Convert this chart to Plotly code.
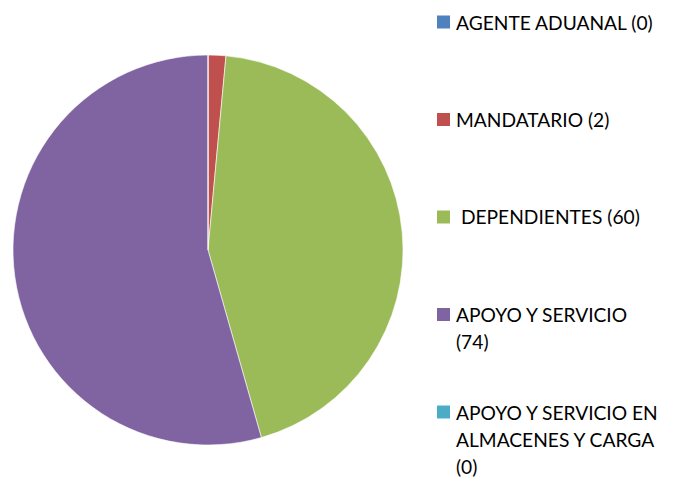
import plotly.graph_objects as go

labels = ["AGENTE ADUANAL", "MANDATARIO", "DEPENDIENTES", "APOYO Y SERVICIO", "APOYO Y SERVICIO EN ALMACENES Y CARGA"]
values = [0, 2, 60, 74, 0]
legend_lines = [
    ["AGENTE ADUANAL (0)"],
    ["MANDATARIO (2)"],
    [" DEPENDIENTES (60)"],
    ["APOYO Y SERVICIO", "(74)"],
    ["APOYO Y SERVICIO EN", "ALMACENES Y CARGA", "(0)"],
]
colors = ["#4F81BD", "#C0504D", "#9BBB59", "#8064A2", "#4BACC6"]

W, H = 674, 481
fig = go.Figure(go.Pie(
    labels=labels, values=values, sort=False, direction="clockwise", rotation=0,
    marker=dict(colors=colors, line=dict(color="white", width=0.6)),
    textinfo="none", hoverinfo="label+value", showlegend=False,
    domain=dict(x=[13 / W, 403 / W], y=[36 / H, 426 / H]),
))

font = dict(family="Lato, Open Sans, sans-serif", size=19.2, color="#000000")
annotations, shapes = [], []
first_y, item_step, line_step = 22, 97.5, 27
for i, lines in enumerate(legend_lines):
    y0 = first_y + i * item_step
    shapes.append(dict(type="rect", xref="paper", yref="paper",
                       x0=437 / W, x1=450 / W, y0=1 - (y0 + 6.5) / H, y1=1 - (y0 - 6.5) / H,
                       fillcolor=colors[i], line=dict(width=0)))
    for j, t in enumerate(lines):
        annotations.append(dict(text=t, xref="paper", yref="paper", x=454 / W, y=1 - (y0 + j * line_step) / H,
                                xanchor="left", yanchor="middle", showarrow=False, font=font))

fig.update_layout(width=W, height=H, margin=dict(l=0, r=0, t=0, b=0),
                  paper_bgcolor="white", plot_bgcolor="white",
                  annotations=annotations, shapes=shapes)
fig.write_html("out.html", config={"displayModeBar": False},
               post_script="document.body.style.margin='0';")
